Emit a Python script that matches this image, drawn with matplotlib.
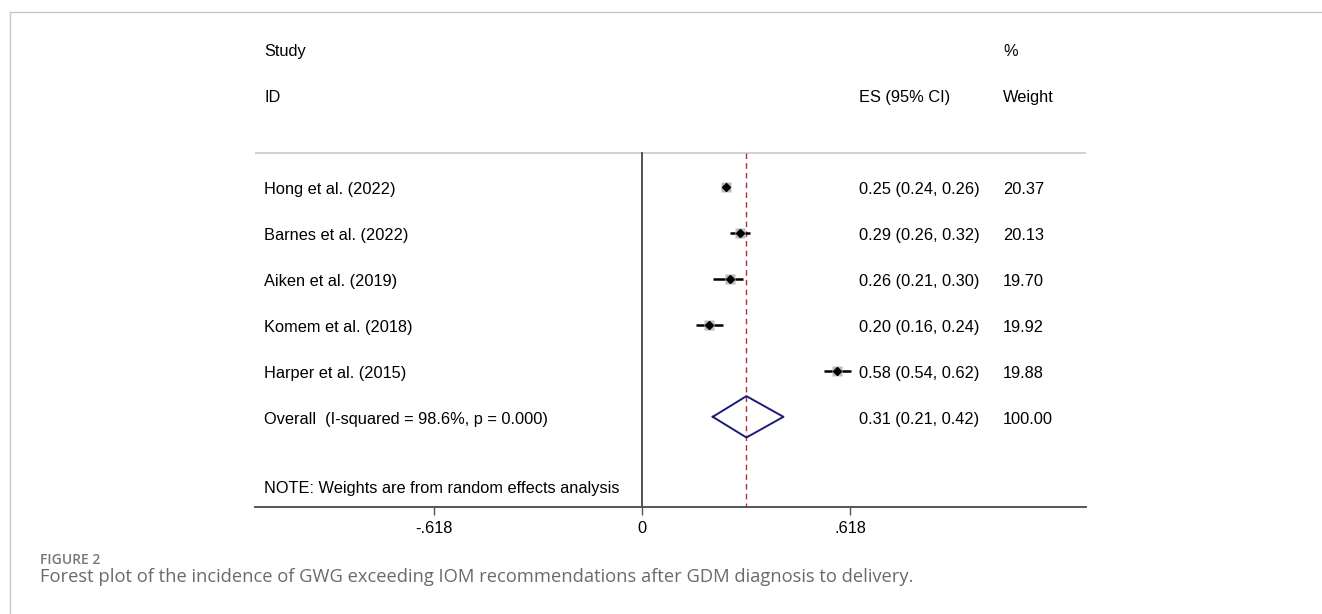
import matplotlib.pyplot as plt
from matplotlib.lines import Line2D

plt.rcParams['font.family'] = ['Liberation Sans', 'DejaVu Sans']

# datos del forest plot
estudios = ['Hong et al. (2022)', 'Barnes et al. (2022)', 'Aiken et al. (2019)',
            'Komem et al. (2018)', 'Harper et al. (2015)']
es = [0.25, 0.29, 0.26, 0.20, 0.58]
li = [0.24, 0.26, 0.21, 0.16, 0.54]
ls = [0.26, 0.32, 0.30, 0.24, 0.62]
pesos = ['20.37', '20.13', '19.70', '19.92', '19.88']
overall = (0.31, 0.21, 0.42)
overall_label = 'Overall  (I-squared = 98.6%, p = 0.000)'
overall_peso = '100.00'
ticks = [-0.618, 0, 0.618]
tick_labels = ['-.618', '0', '.618']

fig = plt.figure(figsize=(13.22, 6.14), dpi=100)
ax = fig.add_axes([0.1929, 0.1743, 0.6286, 0.7769])
ax.set_xlim(-1.150, 1.319)
ax.set_ylim(6.96, -3.41)

fs = 11.8
dy = 0.05  # pequeño ajuste vertical del texto
x_lab, x_es, x_w = -1.123, 0.645, 1.0725

# cabecera
ax.text(x_lab, -3 + dy, 'Study', fontsize=fs, va='center')
ax.text(x_lab, -2 + dy, 'ID', fontsize=fs, va='center')
ax.text(x_es, -2 + dy, 'ES (95% CI)', fontsize=fs, va='center')
ax.text(x_w, -3 + dy, '%', fontsize=fs, va='center')
ax.text(x_w, -2 + dy, 'Weight', fontsize=fs, va='center')
ax.axhline(-0.74, color='#c8c8c8', lw=1.2)

# lineas verticales
ax.plot([0, 0], [-0.74, 6.96], color='#333333', lw=1.2)
ax.plot([overall[0]] * 2, [-0.74, 6.96], color='#b03030', lw=1.0, ls=(0, (4, 3)))

for i in range(len(estudios)):
    ax.plot([li[i], ls[i]], [i, i], color='black', lw=1.8, solid_capstyle='butt')
    ax.plot(es[i], i, marker='s', ms=7, color='#bdbdbd', mec='none')
    ax.plot(es[i], i, marker='D', ms=4, color='black')
    ax.text(x_lab, i + dy, estudios[i], fontsize=fs, va='center')
    ax.text(x_es, i + dy, '%.2f (%.2f, %.2f)' % (es[i], li[i], ls[i]), fontsize=fs, va='center')
    ax.text(x_w, i + dy, pesos[i], fontsize=fs, va='center')

# diamante global
j = len(estudios)
ax.plot([overall[1], overall[0], overall[2], overall[0], overall[1]],
        [j, j - 0.45, j, j + 0.45, j], color='#1c1c78', lw=1.4)
ax.text(x_lab, j + dy, overall_label, fontsize=fs, va='center')
ax.text(x_es, j + dy, '%.2f (%.2f, %.2f)' % overall, fontsize=fs, va='center')
ax.text(x_w, j + dy, overall_peso, fontsize=fs, va='center')
ax.text(x_lab, 6.5 + dy, 'NOTE: Weights are from random effects analysis', fontsize=fs, va='center')

for s in ['top', 'left', 'right']:
    ax.spines[s].set_visible(False)
ax.spines['bottom'].set_color('#555555')
ax.spines['bottom'].set_linewidth(1.4)
ax.set_yticks([])
ax.set_xticks(ticks)
ax.set_xticklabels(tick_labels, fontsize=fs)
ax.tick_params(axis='x', length=6, width=1, color='#555555', pad=4)

# marco y pie de figura
fig.add_artist(Line2D([9.5 / 1322, 1], [1 - 12 / 614] * 2, color='#c8c8c8', lw=1))
fig.add_artist(Line2D([9.5 / 1322] * 2, [0, 1 - 12 / 614], color='#c8c8c8', lw=1))
fig.text(40 / 1322, 1 - 560 / 614, 'FIGURE 2', fontsize=10, color='#777777',
         family='Open Sans', fontweight='semibold', va='center')
fig.text(40 / 1322, 1 - 577 / 614, 'Forest plot of the incidence of GWG exceeding IOM recommendations after GDM diagnosis to delivery.',
         fontsize=13.2, color='#6a6a6a', family='Open Sans', va='center')

fig.savefig('out.png', dpi=100)
